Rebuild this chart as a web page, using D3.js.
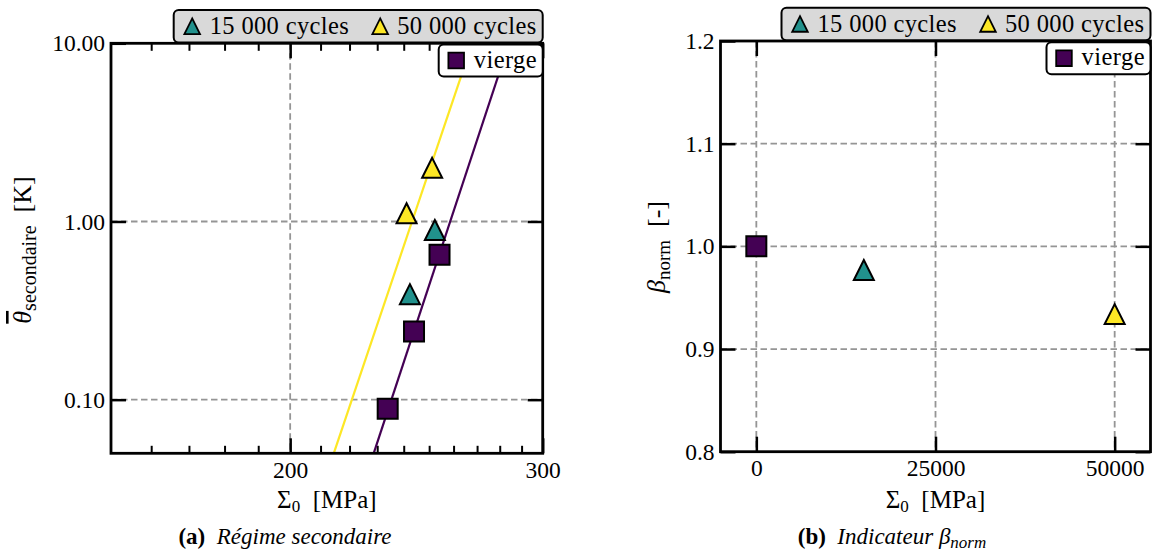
<!DOCTYPE html>
<html><head><meta charset="utf-8">
<script src="https://cdn.jsdelivr.net/npm/d3@7"></script>
<style>body{margin:0;background:#fff}</style>
</head><body>
<svg id="c" width="1152" height="556"></svg>
<script>
// ---------------- DATA ----------------
// (a) Régime secondaire : Σ0 [MPa] vs θ secondaire [K]
const viergeStress = [233.9, 244.0, 254.2];
const viergeTheta  = [0.089, 0.2415, 0.651];
const c15Stress    = [242.4, 252.3];
const c15Theta     = [0.391, 0.896];
const c50Stress    = [241.1, 251.2];
const c50Theta     = [1.113, 2.00];
// fitted lines (power-law fits, straight on log-log)
const fitViergeStress = [228.7, 284.2];
const fitViergeTheta  = [0.05, 10];
const fitC50Stress    = [214.5, 267.9];
const fitC50Theta     = [0.05, 10];
// (b) Indicateur β_norm
const viergeCycles = [0];     const viergeBeta = [1.0];
const c15Cycles    = [15000]; const c15Beta    = [0.977];
const c50Cycles    = [50000]; const c50Beta    = [0.934];
// ticks
const xMajorA = [200, 300];
const xMinorA = [160, 170, 180, 190, 210, 220, 230, 240, 250, 260, 270, 280, 290];
const yMajorA = [0.1, 1, 10];
const xMajorB = [0, 25000, 50000];
const yMajorB = [0.8, 0.9, 1.0, 1.1, 1.2];
const legendLabels = ["15 000 cycles", "50 000 cycles", "vierge"];
const seriesColors = {vierge: "#440154", c15: "#21918c", c50: "#fde725"};

// ---------------- DRAW ----------------
const FF = '"Liberation Serif"';
const svg = d3.select("#c").style("font-family", FF);
svg.append("rect").attr("width",1152).attr("height",556).attr("fill","#fff");
const FS = 23.5;
const GRID = "#959595";

const txt = (sel) => sel.append("text").style("font-family", FF).attr("fill", "#000");

const frameA = {l:111, r:542.7, t:43.3, b:453.3};
const frameB = {l:720.5, r:1150.5, t:41, b:451.7};

const xA = d3.scaleLog().domain([150, 300]).range([frameA.l, frameA.r]);
const yA = d3.scaleLog().domain([0.05, 10]).range([frameA.b, frameA.t]);
const xB = d3.scaleLinear().domain([-5000, 55000]).range([frameB.l, frameB.r]);
const yB = d3.scaleLinear().domain([0.8, 1.2]).range([frameB.b, frameB.t]);

const triPath = s => `M0,${-s}L${s},${s}L${-s},${s}Z`;
const sqPath  = s => `M${-s},${-s}H${s}V${s}H${-s}Z`;

function drawPanel(id, f, x, y, opts) {
  const g = svg.append("g");
  const W = f.r - f.l, H = f.b - f.t;
  svg.append("clipPath").attr("id", "clip"+id).append("rect")
    .attr("x", f.l).attr("y", f.t).attr("width", W).attr("height", H);
  // grid
  const gg = g.append("g").attr("stroke", GRID).attr("stroke-width", 1.8)
    .attr("stroke-dasharray", "6.5,3.5").attr("fill","none");
  opts.xGrid.forEach(v => gg.append("line").attr("x1", x(v)).attr("x2", x(v))
    .attr("y1", f.t).attr("y2", f.b));
  opts.yGrid.forEach(v => gg.append("line").attr("y1", y(v)).attr("y2", y(v))
    .attr("x1", f.l).attr("x2", f.r));
  const styleAxis = (sel, w) => {
    sel.select(".domain").remove();
    sel.attr("font-family", null).attr("font-size", null).style("font-family", FF);
    sel.selectAll(".tick line").attr("stroke", "#000").attr("stroke-width", w);
    sel.selectAll(".tick text").attr("font-size", FS).attr("fill", "#000")
      .style("font-family", FF);
  };
  g.append("g").attr("transform", `translate(0,${f.b})`)
    .call(d3.axisBottom(x).tickValues(opts.xMajor).tickSize(-15).tickPadding(8).tickFormat(opts.xFmt))
    .call(s => styleAxis(s, 2.5));
  g.append("g").attr("transform", `translate(0,${f.t})`)
    .call(d3.axisTop(x).tickValues(opts.xMajor).tickSize(-15).tickFormat(""))
    .call(s => styleAxis(s, 2.5));
  if (opts.xMinor) {
    g.append("g").attr("transform", `translate(0,${f.b})`)
      .call(d3.axisBottom(x).tickValues(opts.xMinor).tickSize(-7.5).tickFormat(""))
      .call(s => styleAxis(s, 2));
    g.append("g").attr("transform", `translate(0,${f.t})`)
      .call(d3.axisTop(x).tickValues(opts.xMinor).tickSize(-7.5).tickFormat(""))
      .call(s => styleAxis(s, 2));
  }
  g.append("g").attr("transform", `translate(${f.l},0)`)
    .call(d3.axisLeft(y).tickValues(opts.yMajor).tickSize(-15).tickPadding(6).tickFormat(opts.yFmt))
    .call(s => styleAxis(s, 2.5));
  g.append("g").attr("transform", `translate(${f.r},0)`)
    .call(d3.axisRight(y).tickValues(opts.yMajor).tickSize(-15).tickFormat(""))
    .call(s => styleAxis(s, 2.5));
  // lines
  const lg = g.append("g").attr("clip-path", `url(#clip${id})`);
  (opts.lines || []).forEach(L => {
    const pts = L.xs.map((v, i) => [v, L.ys[i]]);
    lg.append("path").attr("d", d3.line().x(d => x(d[0])).y(d => y(d[1]))(pts))
      .attr("stroke", L.color).attr("stroke-width", 2.2).attr("fill", "none");
  });
  // markers
  const mg = g.append("g");
  opts.series.forEach(S => {
    S.xs.forEach((v, i) => {
      mg.append("path").attr("d", S.shape === "sq" ? sqPath(10) : triPath(10))
        .attr("transform", `translate(${x(v)},${y(S.ys[i])})`)
        .attr("fill", S.color).attr("stroke", "#000").attr("stroke-width", 2)
        .attr("stroke-linejoin", "miter");
    });
  });
  // spines
  g.append("rect").attr("x", f.l).attr("y", f.t).attr("width", W).attr("height", H)
    .attr("fill", "none").attr("stroke", "#000").attr("stroke-width", 2.8);

  // legend 1 (above)
  const L1w = 369, L1h = 32.5;
  const l1 = g.append("g").attr("transform", `translate(${f.r - L1w},${f.t - L1h - 0.8})`);
  l1.append("rect").attr("width", L1w).attr("height", L1h).attr("rx", 5)
    .attr("fill", "#d9d9d9").attr("stroke", "#000").attr("stroke-width", 2);
  [[seriesColors.c15, legendLabels[0], 18.5, 36], [seriesColors.c50, legendLabels[1], 206.5, 223.5]]
    .forEach(([c, t, mx, tx]) => {
      l1.append("path").attr("d", triPath(7.8)).attr("transform", `translate(${mx},${L1h/2})`)
        .attr("fill", c).attr("stroke", "#000").attr("stroke-width", 1.8);
      txt(l1).attr("x", tx).attr("y", L1h/2 + 8).attr("font-size", 24.5)
        .attr("textLength", 139).attr("lengthAdjust", "spacing").text(t);
    });
  // legend 2 (vierge)
  const L2w = 104, L2h = 32;
  const l2 = g.append("g").attr("transform", `translate(${f.r - L2w},${f.t + 1.2})`);
  l2.append("rect").attr("width", L2w).attr("height", L2h).attr("rx", 5)
    .attr("fill", "#fff").attr("stroke", "#000").attr("stroke-width", 2);
  l2.append("path").attr("d", sqPath(7.8)).attr("transform", `translate(17.5,${L2h/2})`)
    .attr("fill", seriesColors.vierge).attr("stroke", "#000").attr("stroke-width", 1.8);
  txt(l2).attr("x", 35).attr("y", L2h/2 + 7).attr("font-size", 24.5)
    .attr("textLength", 63).attr("lengthAdjust", "spacing").text(legendLabels[2]);

  // x label
  const cx = (f.l + f.r) / 2;
  const xl = txt(svg).attr("x", cx).attr("y", 508).attr("text-anchor", "middle")
    .attr("font-size", 25);
  xl.append("tspan").text("Σ");
  xl.append("tspan").attr("font-size", 17).attr("dy", 4).text("0");
  xl.append("tspan").attr("dy", -4).text("\u00a0\u00a0[MPa]");
  return g;
}

drawPanel("A", frameA, xA, yA, {
  xMajor: xMajorA, xMinor: xMinorA, yMajor: yMajorA,
  xFmt: d3.format("d"), yFmt: d3.format(".2f"),
  xGrid: [200], yGrid: [0.1, 1],
  lines: [
    {xs: fitC50Stress, ys: fitC50Theta, color: seriesColors.c50},
    {xs: fitViergeStress, ys: fitViergeTheta, color: seriesColors.vierge}
  ],
  series: [
    {xs: c15Stress, ys: c15Theta, color: seriesColors.c15, shape: "tri"},
    {xs: c50Stress, ys: c50Theta, color: seriesColors.c50, shape: "tri"},
    {xs: viergeStress, ys: viergeTheta, color: seriesColors.vierge, shape: "sq"}
  ]
});
drawPanel("B", frameB, xB, yB, {
  xMajor: xMajorB, yMajor: yMajorB,
  xFmt: d3.format("d"), yFmt: d3.format(".1f"),
  xGrid: [0, 25000, 50000], yGrid: [0.9, 1.0, 1.1],
  lines: [],
  series: [
    {xs: viergeCycles, ys: viergeBeta, color: seriesColors.vierge, shape: "sq"},
    {xs: c15Cycles, ys: c15Beta, color: seriesColors.c15, shape: "tri"},
    {xs: c50Cycles, ys: c50Beta, color: seriesColors.c50, shape: "tri"}
  ]
});

// y labels
const ylA = txt(svg).attr("transform", "translate(31,250) rotate(-90)")
  .attr("text-anchor", "middle").attr("font-size", 26);
ylA.append("tspan").attr("font-style", "italic").style("text-decoration", "overline").text("θ");
ylA.append("tspan").attr("font-size", 20).attr("dy", 5).text("secondaire");
ylA.append("tspan").attr("dy", -5).text("\u00a0\u00a0[K]");

const ylB = txt(svg).attr("transform", "translate(665,247) rotate(-90)")
  .attr("text-anchor", "middle").attr("font-size", 26);
ylB.append("tspan").attr("font-style", "italic").text("β");
ylB.append("tspan").attr("font-size", 19).attr("dy", 5).text("norm");
ylB.append("tspan").attr("dy", -5).text("\u00a0\u00a0[-]");

// captions
const capA = txt(svg).attr("x", 285).attr("y", 544).attr("text-anchor", "middle").attr("font-size", 23);
capA.append("tspan").attr("font-weight", "bold").text("(a)");
capA.append("tspan").attr("font-style", "italic").text("\u00a0\u00a0Régime secondaire");

const capB = txt(svg).attr("x", 892).attr("y", 544).attr("text-anchor", "middle").attr("font-size", 23);
capB.append("tspan").attr("font-weight", "bold").text("(b)");
capB.append("tspan").attr("font-style", "italic").text("\u00a0\u00a0Indicateur β");
capB.append("tspan").attr("font-style", "italic").attr("font-size", 17).attr("dy", 4).text("norm");
</script>
</body></html>
